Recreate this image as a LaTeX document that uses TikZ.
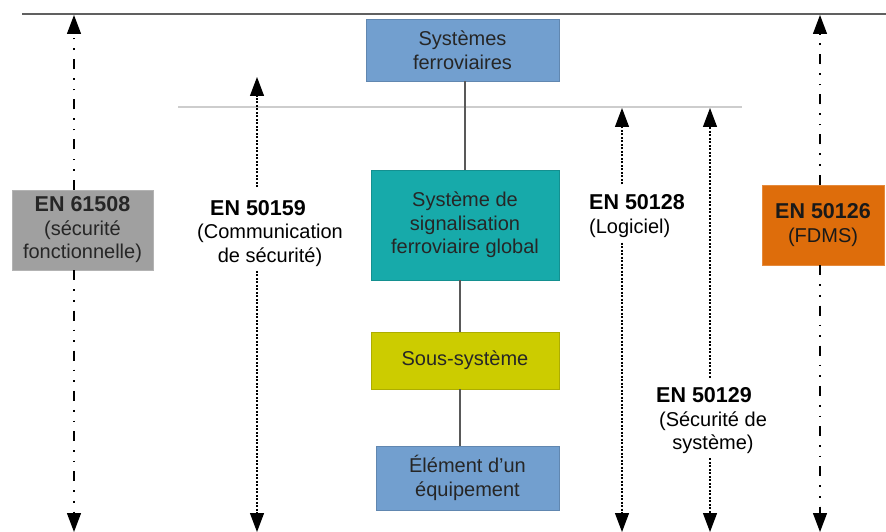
\documentclass[tikz,border=0pt]{standalone}
\usepackage{fontspec}
\setmainfont{Liberation Sans}
\usetikzlibrary{arrows.meta}
\definecolor{boxblue}{HTML}{729FCF}
\definecolor{boxteal}{HTML}{17AAAA}
\definecolor{boxyellow}{HTML}{CCCC00}
\definecolor{boxgray}{HTML}{A0A0A0}
\definecolor{boxorange}{HTML}{DE6D0B}
\definecolor{toplinec}{HTML}{606060}
\definecolor{midlinec}{HTML}{CDCDCD}
\definecolor{connc}{HTML}{595959}
\newcommand{\stdname}[1]{{\fontsize{21.5}{23}\selectfont\bfseries #1}}
\begin{document}
\begin{tikzpicture}[x=1pt,y=-1pt,
  every node/.style={font=\fontsize{20}{23.5}\selectfont, align=center, inner sep=0pt},
  sbox/.style={draw=#1!85!black, fill=#1, line width=0.8pt, text=black!85},
  conn/.style={draw=connc, line width=1.4pt},
  tipS/.style={-{Triangle[width=14pt,length=19pt]}},
  dd/.style={line width=1.3pt, dash pattern=on 10pt off 9pt on 1.6pt off 9pt on 1.6pt off 9pt, tipS},
  dt/.style={line width=1.2pt, dash pattern=on 2pt off 1.5pt, tipS}
]
\useasboundingbox (0,0) rectangle (886,532);
\fill[white] (0,0) rectangle (886,532);

% horizontal reference lines
\draw[toplinec, line width=2pt] (22,14) -- (886,14);
\draw[midlinec, line width=2pt] (178,107) -- (742,107);

% central hierarchy
\node[sbox=boxblue, minimum width=193pt, minimum height=62pt] (sys) at (462.5,50) {Systèmes\\ferroviaires};
\node[sbox=boxteal, minimum width=188pt, minimum height=110pt] (sig) at (465,225) {Système de\\signalisation\\ferroviaire global};
\node[sbox=boxyellow, minimum width=188pt, minimum height=57pt] (sous) at (465,360.5) {Sous-système};
\node[sbox=boxblue, minimum width=183pt, minimum height=64pt] (elem) at (467.5,478) {Élément d’un\\équipement};

\draw[conn] (sys.south -| sig.north) -- (sig.north);
\draw[conn] ([xshift=-5pt]sig.south) coordinate (c2) -- (c2 |- sous.north);
\draw[conn] ([xshift=-5pt]sous.south) coordinate (c3) -- (c3 |- elem.north);

% standards
\node[fill=boxgray, draw=boxgray!80!white, line width=0.6pt, minimum width=141pt, minimum height=80pt, text=black!85] (en61508) at (82.5,230) {\stdname{EN 61508}\\(sécurité\\fonctionnelle)};
\node[fill=boxorange, draw=boxorange!80!white, line width=0.6pt, minimum width=122pt, minimum height=80pt, text=black!90] (en50126) at (823,225) {\stdname{EN 50126}\\(FDMS)};
\node (en50159) at (270,233.5) {\stdname{EN 50159}\hspace*{24pt}\\(Communication\\de sécurité)};
\node[align=left, anchor=west] (en50128) at (589,216) {\stdname{EN 50128}\\(Logiciel)};
\node (en50129) at (713,421) {\stdname{EN 50129}\hspace*{18pt}\\(Sécurité de\\système)};

% arrow end points
\coordinate (t1) at (74,15);   \coordinate (b1) at (74,532);
\coordinate (t2) at (257,77);  \coordinate (b2) at (257,532);
\coordinate (t3) at (622,108); \coordinate (b3) at (622,532);
\coordinate (t4) at (710,108); \coordinate (b4) at (710,532);
\coordinate (t5) at (820,15);  \coordinate (b5) at (820,532);

\draw[dd] (t1 |- en61508.north) -- (t1);
\draw[dd] (b1 |- en61508.south) -- (b1);
\draw[dt] ([yshift=13pt]en50159.north -| t2) -- (t2);
\draw[dt] ([yshift=-4pt]en50159.south -| b2) -- (b2);
\draw[dt] ([yshift=10pt]en50128.north -| t3) -- (t3);
\draw[dt] ([yshift=-5pt]en50128.south -| b3) -- (b3);
\draw[dt] ([yshift=10pt]en50129.north -| t4) -- (t4);
\draw[dt] ([yshift=-4pt]en50129.south -| b4) -- (b4);
\draw[dd] (t5 |- en50126.north) -- (t5);
\draw[dd] (b5 |- en50126.south) -- (b5);
\end{tikzpicture}
\end{document}
